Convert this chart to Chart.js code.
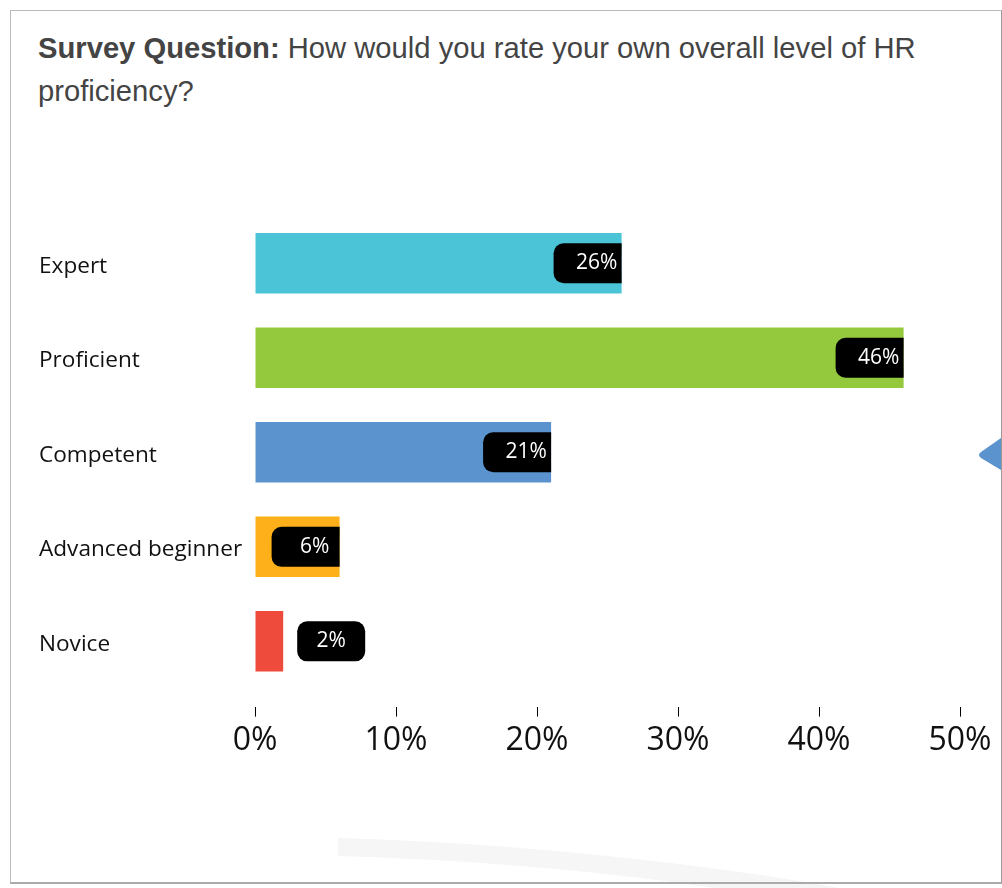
<!DOCTYPE html>
<html>
<head>
  <meta charset="utf-8">
  <title>HR proficiency</title>
  <script src="https://cdn.jsdelivr.net/npm/chart.js@4/dist/chart.umd.min.js"></script>
  <style>
    body { margin: 0; background: #fff; }
    #frame {
      position: absolute; left: 10px; top: 10px; width: 990px; height: 871px;
      border: 1px solid #bbb; border-right: 2px solid #999; border-bottom: 2px solid #aaa;
      overflow: hidden; background: #fff;
    }
    #question {
      position: absolute; left: 27px; top: 16px; width: 940px;
      font-family: "Liberation Sans", Arial, sans-serif; font-size: 29.2px;
      line-height: 43px; color: #444;
    }
    #question b { font-weight: bold; }
    #wrap { position: absolute; left: 0; top: 169px; width: 990px; height: 620px; }
    #swoosh { position: absolute; left: 0; top: 0; }
  </style>
</head>
<body>
  <svg id="swoosh" width="1002" height="888">
    <path d="M338,838 Q600,846 840,888 L715,888 Q540,862 338,856 Z" fill="#f5f5f5"/>
  </svg>
  <div id="frame">
    <svg width="990" height="871" style="position:absolute;left:0;top:0">
      <path d="M327,827 Q590,835 830,877 L705,877 Q530,851 327,845 Z" fill="#f6f6f6"/>
      <path d="M990,427 L970,441 Q966,444 970,447 L990,459 Z" fill="#5b93ce"/>
    </svg>
    <div id="question"><b>Survey Question:</b> How would you rate your own overall level of HR proficiency?</div>
    <div id="wrap"><canvas id="chart"></canvas></div>
  </div>
  <script>
  const levels = ['Expert', 'Proficient', 'Competent', 'Advanced beginner', 'Novice'];
  const shares = [26, 46, 21, 6, 2];
  const barColors = ['#4bc4d7', '#95c93d', '#5b93ce', '#fdb019', '#ef4b3c'];
  const axisTicks = [0, 10, 20, 30, 40, 50];

  // black rounded tag with the value at the end of each bar
  const valueTags = {
    id: 'valueTags',
    afterDatasetsDraw(chart) {
      const ctx = chart.ctx;
      const meta = chart.getDatasetMeta(0);
      ctx.save();
      ctx.font = '21px "Open Sans"';
      ctx.textAlign = 'center';
      ctx.textBaseline = 'middle';
      meta.data.forEach(function(bar, i){
        const w = 68, h = 40;
        const top = bar.y - h / 2;
        let left, cx;
        ctx.beginPath();
        if (bar.x - bar.base > w) {
          left = bar.x - w;
          cx = left + 43;
          ctx.roundRect(left, top, w, h, [10, 0, 0, 10]);
        } else {
          left = bar.x + 14;
          cx = left + 34;
          ctx.roundRect(left, top, w, h, 10);
        }
        ctx.fillStyle = '#000';
        ctx.fill();
        ctx.fillStyle = '#fff';
        ctx.fillText(shares[i] + '%', cx, bar.y);
      });
      ctx.restore();
    }
  };

  new Chart(document.getElementById('chart'), {
    type: 'bar',
    data: {
      labels: levels,
      datasets: [{
        data: shares,
        backgroundColor: barColors,
        barPercentage: 0.64,
        categoryPercentage: 1,
      }],
    },
    options: {
      indexAxis: 'y',
      responsive: true,
      maintainAspectRatio: false,
      animation: false,
      layout: { padding: { left: 28, right: 41, top: 36, bottom: 35 } },
      plugins: {
        legend: { display: false },
        tooltip: { enabled: false },
      },
      scales: {
        x: {
          min: 0,
          max: 50,
          afterBuildTicks: function(scale){
            scale.ticks = axisTicks.map(v => ({ value: v }));
          },
          border: { display: false },
          grid: {
            drawOnChartArea: false,
            tickLength: 28,
            tickColor: '#000',
            tickWidth: 1,
            tickBorderDash: [0, 18, 10, 100],
          },
          ticks: {
            padding: 5,
            color: '#111',
            font: { family: 'Open Sans', size: 32 },
            callback: v => v + '%',
          },
        },
        y: {
          border: { display: false },
          grid: { display: false },
          afterFit: function(scale){ scale.width = 216; },
          ticks: {
            crossAlign: 'far',
            labelOffset: 3,
            color: '#111',
            font: { family: 'Open Sans', size: 22.6 },
          },
        },
      },
    },
    plugins: [valueTags],
  });
  </script>
</body>
</html>
